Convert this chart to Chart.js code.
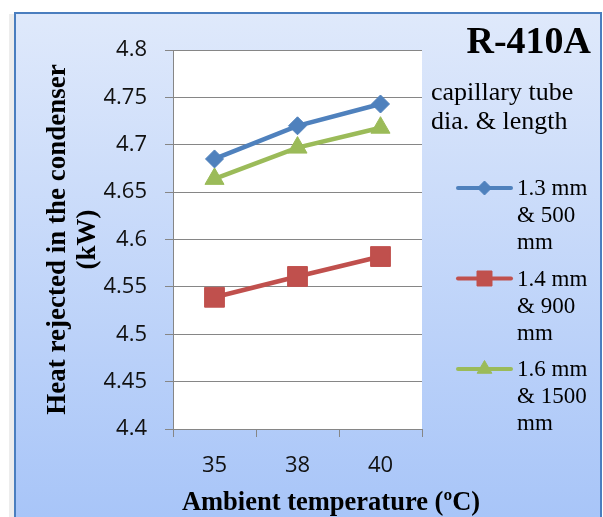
<!DOCTYPE html>
<html><head><meta charset="utf-8">
<script src="https://cdn.jsdelivr.net/npm/chart.js@4/dist/chart.umd.min.js"></script>
<style>html,body{margin:0;padding:0;background:#fff;overflow:hidden}#wrap{width:603px;height:517px;position:relative}canvas{display:block}</style>
</head><body><div id="wrap"><canvas id="c" width="603" height="517"></canvas></div>
<script>
// ---- data ----
const categories = ['35', '38', '40'];
const series13 = [4.685, 4.720, 4.743];   // 1.3 mm & 500 mm
const series14 = [4.539, 4.561, 4.582];   // 1.4 mm & 900 mm
const series16 = [4.664, 4.697, 4.718];   // 1.6 mm & 1500 mm
const seriesNames = [['1.3 mm', '& 500', 'mm'], ['1.4 mm', '& 900', 'mm'], ['1.6 mm', '& 1500', 'mm']];
const yMin = 4.4, yMax = 4.8, yStep = 0.05;
const chartTitle = 'R-410A';
const legendTitle = ['capillary tube', 'dia. & length'];
const xTitle = 'Ambient temperature (\u00baC)';
const yTitle = ['Heat rejected in the condenser', '(kW)'];

const colors = ['#4f81bd', '#c0504d', '#9bbb59'];
const SERIF = '"Liberation Serif", "Times New Roman", serif';
const SANS = '"Open Sans", "Liberation Sans", sans-serif';

const decor = {
  id: 'decor',
  beforeDraw(chart) {
    const ctx = chart.ctx, W = chart.width, H = chart.height;
    ctx.save();
    ctx.fillStyle = '#ffffff'; ctx.fillRect(0, 0, W, H);
    ctx.fillStyle = '#ededed'; ctx.fillRect(9, 14, 5, H - 14);
    const g = ctx.createLinearGradient(0, 13, 0, H);
    g.addColorStop(0, '#dfe9fb'); g.addColorStop(1, '#a8c5f8');
    ctx.fillStyle = g; ctx.fillRect(15, 13, 586, H - 13);
    ctx.strokeStyle = '#4a7ebf'; ctx.lineWidth = 2;
    ctx.beginPath(); ctx.moveTo(15, H + 2); ctx.lineTo(15, 13); ctx.lineTo(601, 13); ctx.lineTo(601, H + 2); ctx.stroke();
    const a = chart.chartArea;
    ctx.fillStyle = '#ffffff'; ctx.fillRect(a.left, a.top, a.right - a.left, a.bottom - a.top);
    ctx.restore();
  },
  afterDraw(chart) {
    const ctx = chart.ctx;
    ctx.save();
    ctx.fillStyle = '#000';
    // chart title
    ctx.font = 'bold 38px ' + SERIF; ctx.textAlign = 'right'; ctx.textBaseline = 'alphabetic';
    ctx.fillText(chartTitle, 591, 53);
    // x title
    ctx.font = 'bold 26.5px ' + SERIF; ctx.textAlign = 'center';
    ctx.fillText(xTitle, 331, 510);
    // legend title
    ctx.font = '26px ' + SERIF; ctx.textAlign = 'left'; ctx.textBaseline = 'middle';
    legendTitle.forEach((t, i) => ctx.fillText(t, 431, 93 + i * 29));
    // legend items
    const radii = [7, 10.6, 8.5];
    chart.data.datasets.forEach((ds, i) => {
      const y = 188 + i * 90.5;
      ctx.strokeStyle = ds.borderColor; ctx.lineWidth = 4; ctx.lineCap = 'round';
      ctx.beginPath(); ctx.moveTo(458, y); ctx.lineTo(511, y); ctx.stroke();
      ctx.lineCap = 'butt';
      ctx.fillStyle = ds.backgroundColor; ctx.strokeStyle = ds.borderColor; ctx.lineWidth = 1;
      Chart.helpers.drawPoint(ctx, {pointStyle: ds.pointStyle, radius: radii[i], rotation: 0, borderWidth: 1}, 484.5, y);
      ctx.fillStyle = '#000'; ctx.font = '23px ' + SERIF; ctx.textAlign = 'left'; ctx.textBaseline = 'middle';
      seriesNames[i].forEach((t, j) => ctx.fillText(t, 517, y + 1 + j * 27));
    });
    ctx.restore();
  }
};

new Chart(document.getElementById('c'), {
  type: 'line',
  data: {
    labels: categories,
    datasets: [
      {label: seriesNames[0].join(' '), data: series13, borderColor: colors[0], backgroundColor: colors[0], pointStyle: 'rectRot', pointRadius: 9, pointHoverRadius: 9},
      {label: seriesNames[1].join(' '), data: series14, borderColor: colors[1], backgroundColor: colors[1], pointStyle: 'rect', pointRadius: 14, pointHoverRadius: 14},
      {label: seriesNames[2].join(' '), data: series16, borderColor: colors[2], backgroundColor: colors[2], pointStyle: 'triangle', pointRadius: 11, pointHoverRadius: 11}
    ].map(d => Object.assign(d, {borderWidth: 4.5, pointBorderWidth: 1, tension: 0, fill: false}))
  },
  options: {
    responsive: false, animation: false, devicePixelRatio: 1,
    layout: {padding: {left: 0, right: 181, top: 50, bottom: 0}},
    plugins: {legend: {display: false}, tooltip: {enabled: false}, title: {display: false}},
    scales: {
      x: {
        type: 'category', offset: true,
        grid: {offset: true, drawOnChartArea: false, drawTicks: true, tickLength: 8, color: '#868686', lineWidth: 1},
        border: {color: '#868686', width: 1},
        ticks: {font: {family: SANS, size: 22}, color: '#111', padding: 16},
        afterFit: s => { s.height = 88; }
      },
      y: {
        min: yMin, max: yMax,
        grid: {color: '#868686', lineWidth: 1, tickLength: 8, drawTicks: true},
        border: {color: '#868686', width: 1},
        ticks: {stepSize: yStep, font: {family: SANS, size: 22}, color: '#111', padding: 18,
          callback: v => String(Number(v.toFixed(2)))},
        title: {display: true, text: yTitle, font: {family: SERIF, size: 27, weight: 'bold', lineHeight: 1.1}, color: '#000', padding: {top: 43, bottom: 0}},
        afterFit: s => { s.width = 173; }
      }
    }
  },
  plugins: [decor]
});
</script>
</body></html>
